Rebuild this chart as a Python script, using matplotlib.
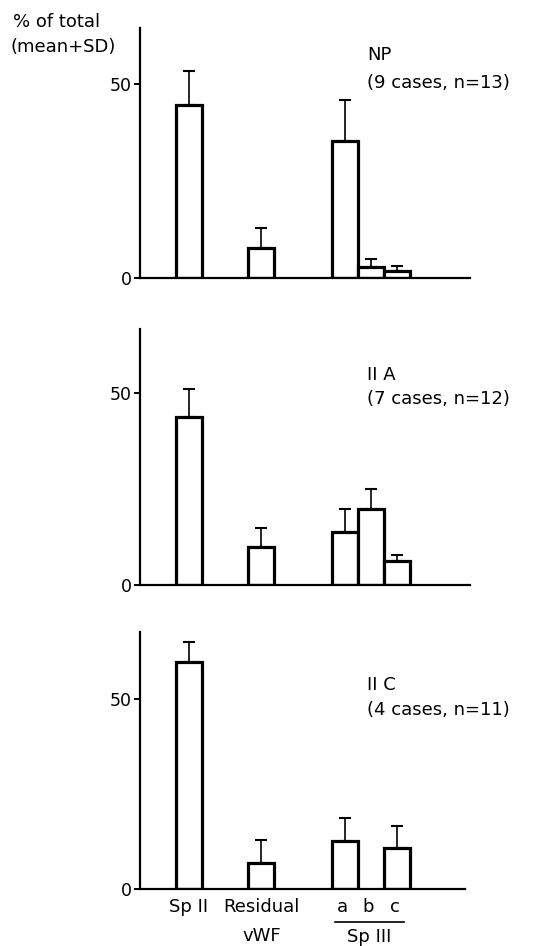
import numpy as np
import matplotlib
matplotlib.use("Agg")
import matplotlib.pyplot as plt
from matplotlib.lines import Line2D
from matplotlib.transforms import offset_copy

plt.rcParams['font.family'] = ['DejaVu Sans']

# ---- data ----
categories = ["Sp II", "Residual\nvWF", "a", "b", "c"]
np_mean = [44.5, 7.8, 35.3, 2.9, 1.8]
np_sd = [8.9, 5.0, 10.6, 2.1, 1.3]
iia_mean = [43.7, 9.8, 13.7, 19.7, 6.2]
iia_sd = [7.2, 4.9, 6.0, 5.2, 1.6]
iic_mean = [59.7, 6.9, 12.7, np.nan, 10.9]
iic_sd = [5.2, 5.9, 6.0, np.nan, 5.8]
panel_titles = ["NP\n(9 cases, n=13)", "II A\n(7 cases, n=12)", "II C\n(4 cases, n=11)"]
y_ticks = [0, 50]
group_label = "Sp III"
y_label = "% of total\n(mean+SD)"

# ---- layout ----
W, H = 541, 946
xpos = np.array([1.87, 4.67, 7.9, 8.9, 9.9])
bar_w = 1.0
FS = 13
TFS = 12.5

fig = plt.figure(figsize=(W / 100, H / 100), dpi=100)

def px_axes(left, right, top, bottom):
    return fig.add_axes([left / W, 1 - bottom / H, (right - left) / W, (bottom - top) / H])

panels = [
    (np_mean, np_sd, px_axes(140, 470, 28, 278), 64.4, (55, 83)),
    (iia_mean, iia_sd, px_axes(140, 470, 329, 585), 66.5, (375, 399)),
    (iic_mean, iic_sd, px_axes(140, 465, 632, 889), 67.6, (685, 710)),
]

for i, (mean, sd, ax, ytop, tpos) in enumerate(panels):
    mean = np.array(mean, dtype=float)
    sd = np.array(sd, dtype=float)
    ok = ~np.isnan(mean)
    xmax = 12.7 if i < 2 else 12.5
    ax.set_xlim(0, xmax)
    ax.set_ylim(0, ytop)
    ax.errorbar(xpos[ok], mean[ok], yerr=[np.zeros(ok.sum()), sd[ok]], fmt='none',
                ecolor='black', elinewidth=1.2, capsize=4.5, capthick=1.5, zorder=1)
    ax.bar(xpos[ok], mean[ok], width=bar_w, facecolor='white', edgecolor='black',
           linewidth=2.3, zorder=2)
    for s in ['top', 'right']:
        ax.spines[s].set_visible(False)
    for s in ['left', 'bottom']:
        ax.spines[s].set_linewidth(1.6)
    ax.spines['bottom'].set_zorder(3)
    ax.set_yticks(y_ticks)
    ax.set_yticklabels([str(t) for t in y_ticks], fontsize=TFS)
    ax.tick_params(axis='y', length=4, width=1.4, pad=2)
    ax.set_xticks([])
    lines = panel_titles[i].split("\n")
    fig.text(367 / W, 1 - tpos[0] / H, lines[0], fontsize=FS, va='center', ha='left')
    fig.text(367 / W, 1 - tpos[1] / H, lines[1], fontsize=FS, va='center', ha='left')

# y label
ylines = y_label.split("\n")
fig.text(13 / W, 1 - 22 / H, ylines[0], fontsize=FS, va='center', ha='left')
fig.text(11 / W, 1 - 47 / H, ylines[1], fontsize=FS, va='center', ha='left')

# x labels on bottom panel
axb = panels[2][2]
for x, lab in zip(xpos, categories):
    parts = lab.split("\n")
    for j, p in enumerate(parts):
        dx = -2 if len(lab) == 1 else 0
        axb.annotate(p, xy=(x, 0), xycoords=('data', 'axes fraction'),
                     xytext=(dx, -13 - 21 * j), textcoords='offset points',
                     ha='center', va='center', fontsize=FS)
# Sp III grouping line and label
trans = axb.get_xaxis_transform()
ltrans = offset_copy(trans, fig=fig, x=0, y=-24, units='points')
axb.add_line(Line2D([xpos[2] - 0.4, xpos[4] + 0.25], [0, 0], transform=ltrans,
                    color='black', linewidth=1.2, clip_on=False))
axb.annotate(group_label, xy=((xpos[2] + xpos[4]) / 2 - 0.1, 0), xycoords=('data', 'axes fraction'),
             xytext=(0, -34.5), textcoords='offset points', ha='center', va='center', fontsize=FS)

fig.savefig("out.png", dpi=100)
